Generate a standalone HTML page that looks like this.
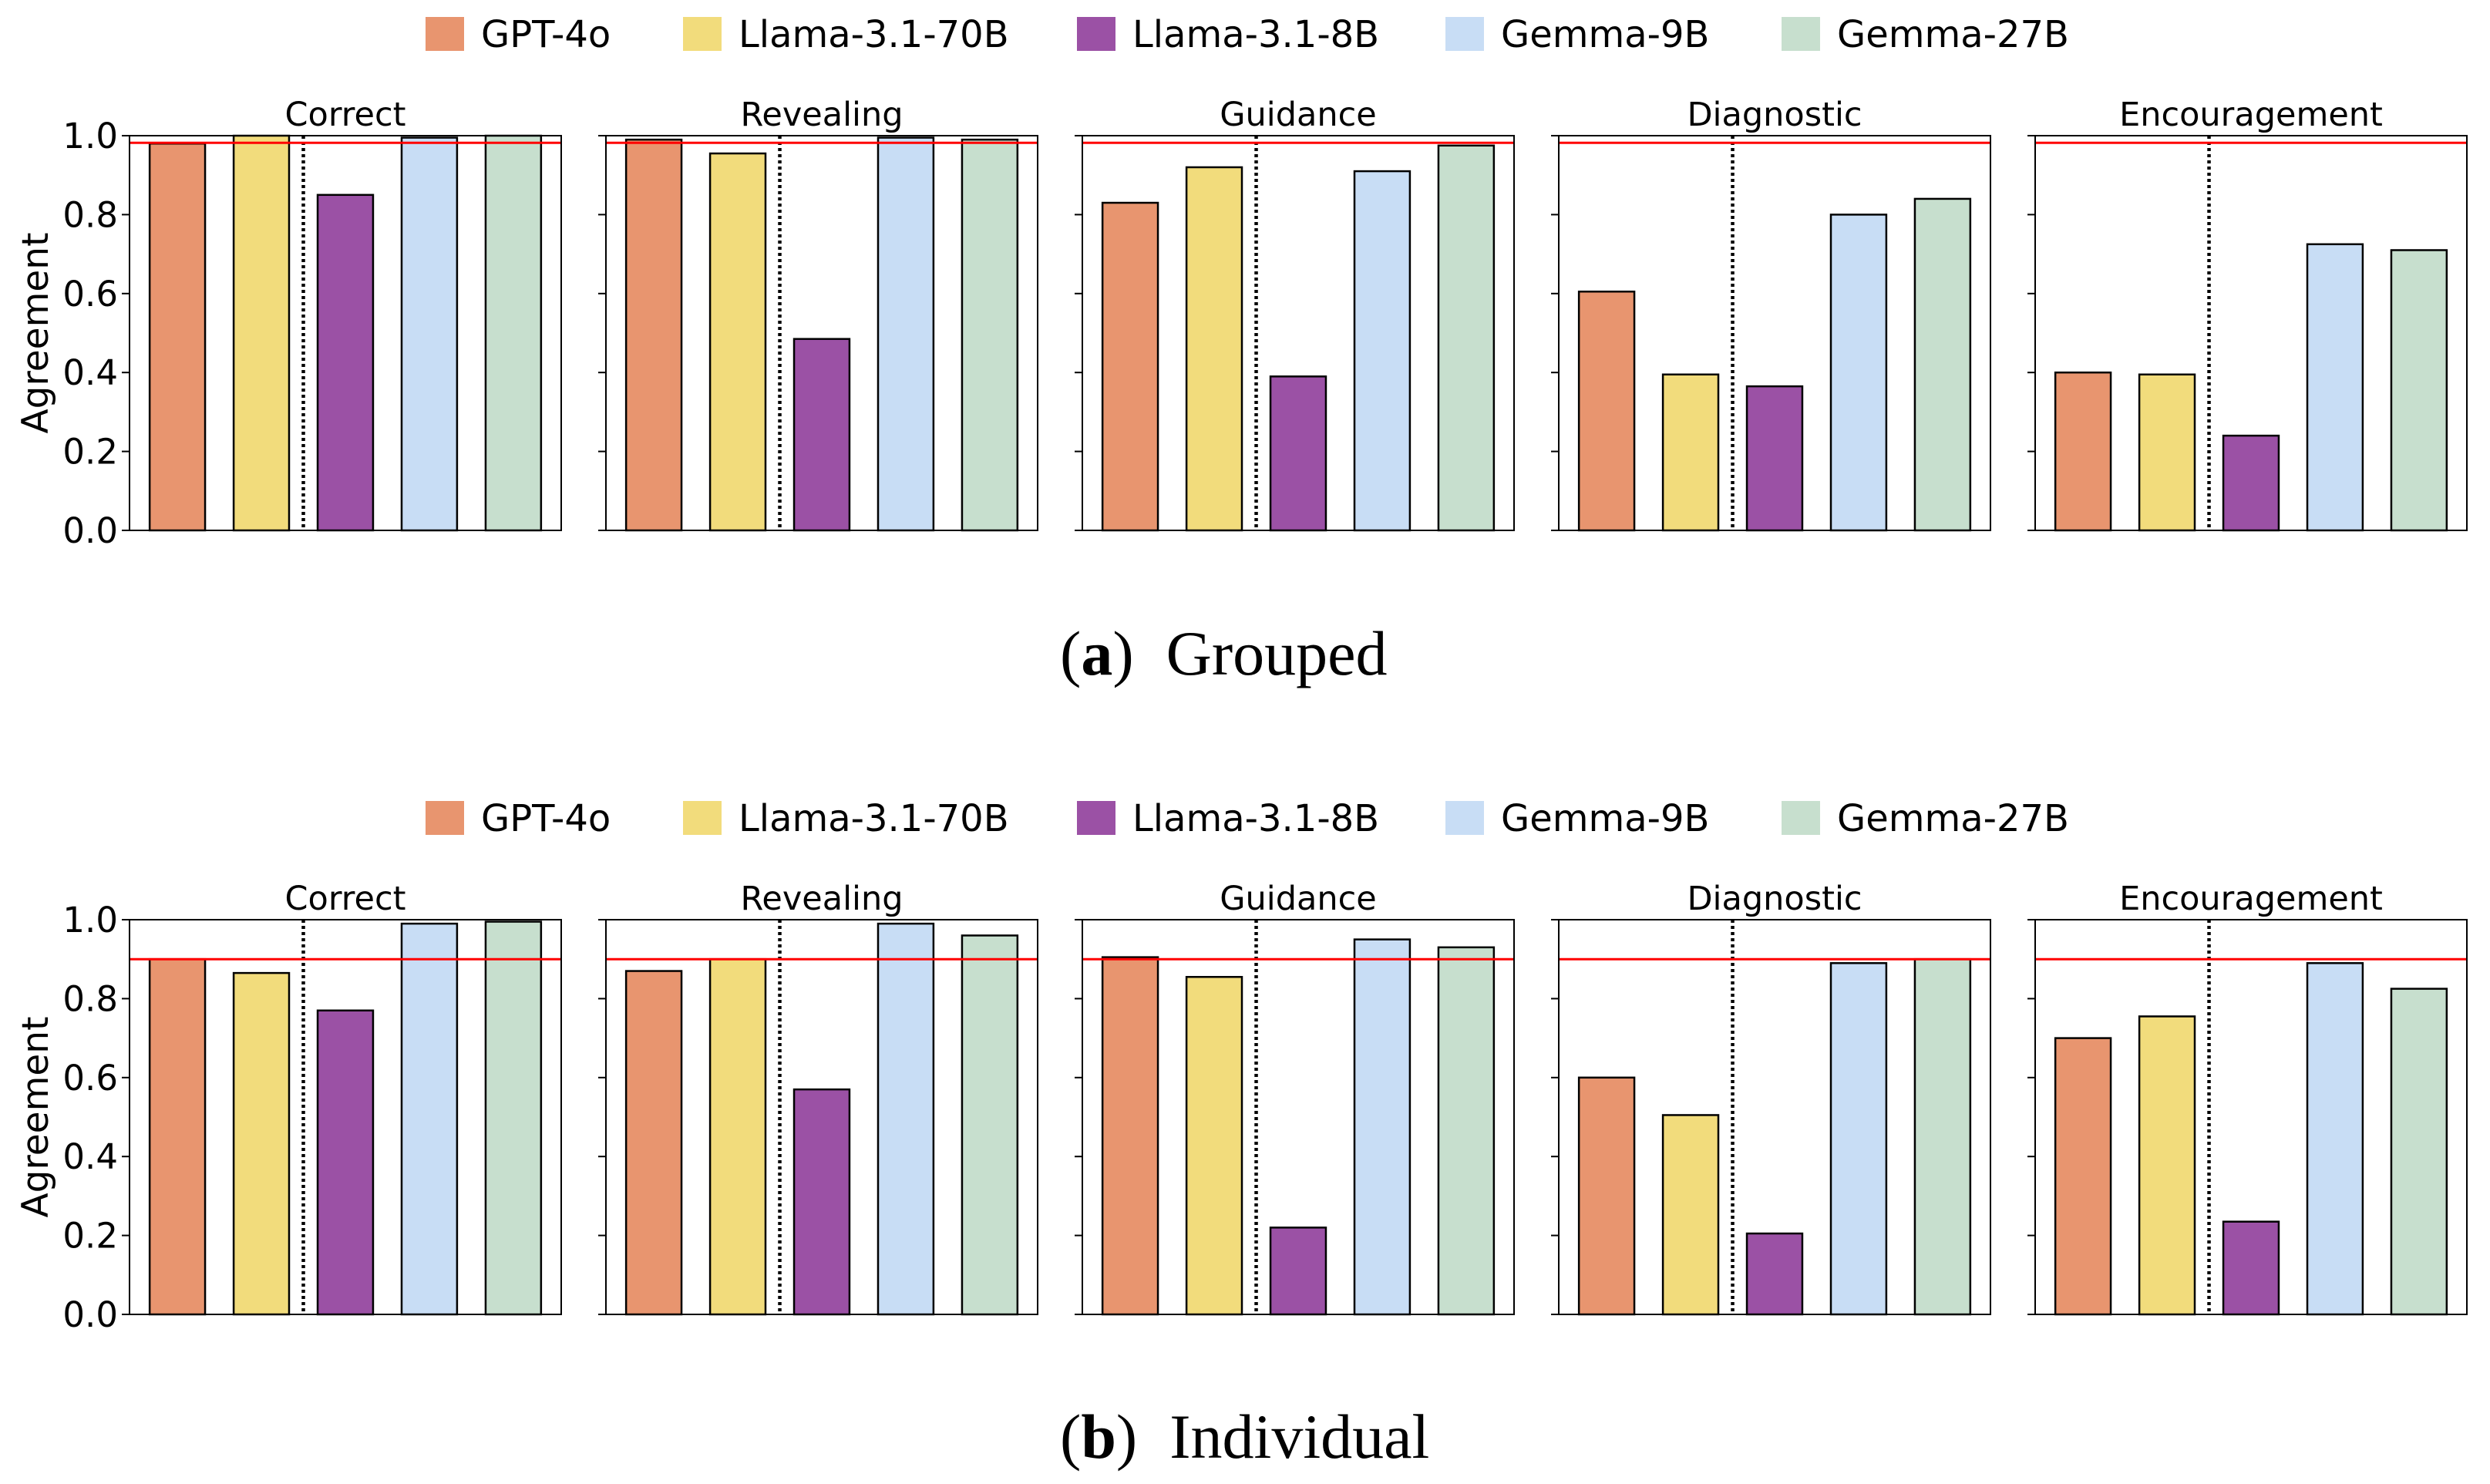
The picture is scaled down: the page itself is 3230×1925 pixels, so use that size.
<!DOCTYPE html>
<html><head><meta charset="utf-8"><style>
body{margin:0;background:#fff}
svg{display:block}
text{font-family:"DejaVu Sans","Liberation Sans",sans-serif;fill:#000}
</style></head><body>
<svg id="chart" width="3230" height="1925" viewBox="0 0 3230 1925" xmlns="http://www.w3.org/2000/svg"></svg>
<script>
const models = ["GPT-4o","Llama-3.1-70B","Llama-3.1-8B","Gemma-9B","Gemma-27B"];
const colors = ["#e8956f","#f2dc7c","#9b51a5","#c8ddf5","#c7dfce"];
const categories = ["Correct","Revealing","Guidance","Diagnostic","Encouragement"];
const yTicks = [0,0.2,0.4,0.6,0.8,1.0];
const yTickLabels = ["0.0","0.2","0.4","0.6","0.8","1.0"];
const groupedValues = [
  [0.98,1.0,0.85,0.995,1.0],
  [0.99,0.955,0.485,0.995,0.99],
  [0.83,0.92,0.39,0.91,0.975],
  [0.605,0.395,0.365,0.80,0.84],
  [0.40,0.395,0.24,0.725,0.71]
];
const individualValues = [
  [0.90,0.865,0.77,0.99,0.995],
  [0.87,0.90,0.57,0.99,0.96],
  [0.905,0.855,0.22,0.95,0.93],
  [0.60,0.505,0.205,0.89,0.90],
  [0.70,0.755,0.235,0.89,0.825]
];
const groupedRef = 0.982;
const individualRef = 0.90;

const NS="http://www.w3.org/2000/svg";
const svg=document.getElementById('chart');
function mk(tag,attrs,parent){const e=document.createElementNS(NS,tag);for(const k in attrs)e.setAttribute(k,attrs[k]);(parent||svg).appendChild(e);return e;}

const panelW=560, pitch=618, x0=168;
const xMin=-0.57, xMax=4.57, barW=0.66;
function drawFigure(top, values, ref, legendY, capY, capLetter, capText, key){
  const bottom=top+512;
  const yS=v=>bottom-v*(bottom-top);
  const legX=[552,886,1397,1875,2311];
  const lg=mk('g',{});
  
  
  models.forEach((m,i)=>{
    const r=mk('rect',{x:legX[i],y:legendY,width:50,height:44,fill:colors[i]},lg);
    
    
    const t=mk('text',{x:legX[i]+72,y:legendY+39,'font-size':48},lg);
    t.textContent=m;
    
    
  });
  categories.forEach((c,p)=>{
    const L=x0+p*pitch, R=L+panelW;
    const xS=v=>L+(v-xMin)/(xMax-xMin)*panelW;
    const g=mk('g',{});
    
    
    const tt=mk('text',{x:(L+R)/2,y:top-13,'font-size':43,'text-anchor':'middle'},g);
    tt.textContent=c;
    
    
    values[p].forEach((v,i)=>{
      const b=mk('rect',{x:xS(i-barW/2),y:yS(v),width:xS(barW)-xS(0),height:yS(0)-yS(v),fill:colors[i],stroke:'#000','stroke-width':2.5},g);
      
      
    });
    const d=mk('line',{x1:xS(1.5),x2:xS(1.5),y1:top,y2:bottom,stroke:'#000','stroke-width':4.5,'stroke-dasharray':'4 4'},g);
    
    
    const rl=mk('line',{x1:L,x2:R,y1:yS(ref),y2:yS(ref),stroke:'#ff0000','stroke-width':3},g);
    
    
    const fr=mk('rect',{x:L,y:top,width:panelW,height:bottom-top,fill:'none',stroke:'#000','stroke-width':2},g);
    
    
    yTicks.forEach((t,k)=>{
      mk('line',{x1:L-10,x2:L,y1:yS(t),y2:yS(t),stroke:'#000','stroke-width':2},g);
      if(p===0){
        const tl=mk('text',{x:L-15,y:yS(t)+16,'font-size':45,'text-anchor':'end'},g);
        tl.textContent=yTickLabels[k];
        
        
      }
    });
  });
  const yl=mk('text',{x:0,y:0,'font-size':47,'text-anchor':'middle',transform:`translate(62,${(top+bottom)/2}) rotate(-90)`});
  yl.textContent='Agreement';
  
  
  const cap=mk('text',{x:1375,y:capY,'font-size':82,style:'font-family:"Liberation Serif",serif'});
  cap.innerHTML='(<tspan font-weight="bold">'+capLetter+'</tspan>)<tspan dx="42">'+capText+'</tspan>';
  
  
}
drawFigure(176,groupedValues,groupedRef,22,875,'a','Grouped','grouped');
drawFigure(1193,individualValues,individualRef,1039,1891,'b','Individual','individual');
</script>
</body></html>
